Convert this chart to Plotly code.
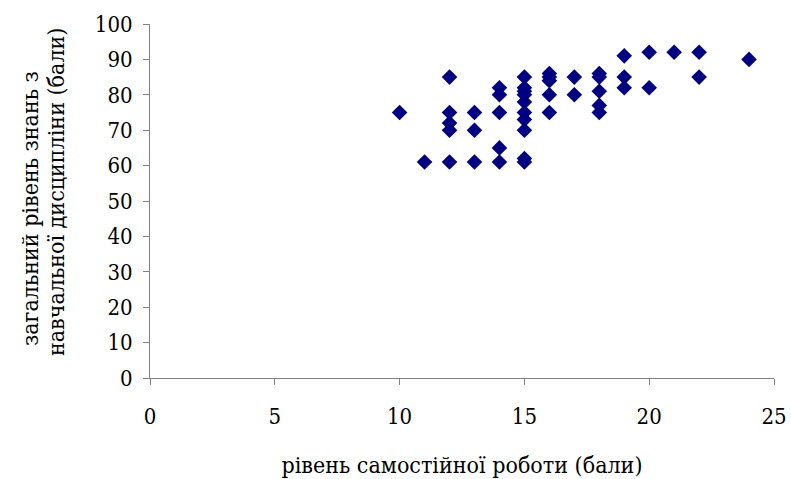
import plotly.graph_objects as go

self_work = [10, 11,
             12, 12, 12, 12, 12,
             13, 13, 13,
             14, 14, 14, 14, 14,
             15, 15, 15, 15, 15, 15, 15, 15, 15, 15,
             16, 16, 16, 16, 16,
             17, 17,
             18, 18, 18, 18, 18,
             19, 19, 19,
             20, 20,
             21,
             22, 22,
             24]
knowledge = [75, 61,
             85, 75, 72, 70, 61,
             75, 70, 61,
             82, 80, 75, 65, 61,
             85, 82, 81, 80, 78, 75, 73, 70, 62, 61,
             86, 85, 84, 80, 75,
             85, 80,
             86, 85, 81, 77, 75,
             91, 85, 82,
             92, 82,
             92,
             92, 85,
             90]

x_ticks = [0, 5, 10, 15, 20, 25]
y_ticks = [0, 10, 20, 30, 40, 50, 60, 70, 80, 90, 100]

x_title = "рівень самостійної роботи (бали)"
y_title_lines = ["загальний рівень знань з", "навчальної дисципліни (бали)"]

FONT = "DejaVu Serif Condensed, DejaVu Serif, serif"

fig = go.Figure(go.Scatter(
    x=self_work, y=knowledge, mode="markers",
    marker=dict(symbol="diamond", size=12, color="#000080",
                line=dict(width=0)),
    showlegend=False))

fig.update_layout(
    width=791, height=479,
    margin=dict(l=150, r=17, t=24, b=101, autoexpand=False),
    paper_bgcolor="white", plot_bgcolor="white",
    font=dict(family=FONT, size=22, color="black"),
)
fig.update_xaxes(
    range=[0, 25], tickvals=x_ticks, ticks="outside", ticklen=6,
    tickcolor="#808080", showline=True, linecolor="#808080", linewidth=1,
    showgrid=False, zeroline=False, ticklabelstandoff=13, automargin=False,
    tickfont=dict(family=FONT, size=22, color="black"),
    title=dict(text=x_title, font=dict(family=FONT, size=23, color="black"), standoff=28),
)
fig.update_yaxes(
    range=[0, 100], tickvals=y_ticks, ticks="outside", ticklen=6,
    tickcolor="#808080", showline=True, linecolor="#808080", linewidth=1,
    showgrid=False, zeroline=False, ticklabelstandoff=6, automargin=False,
    tickfont=dict(family=FONT, size=22, color="black"),
)

# two-line y-axis title, placed line by line to match the reference spacing
for line, xs, ys in zip(y_title_lines, [-120, -94], [-8, 9]):
    fig.add_annotation(
        text=line, xref="paper", yref="paper", x=0, y=0.5,
        xanchor="center", yanchor="middle", textangle=-90,
        xshift=xs, yshift=ys, showarrow=False,
        font=dict(family=FONT, size=23, color="black"))

fig.write_html("out.html", config={"displayModeBar": False},
               post_script="document.body.style.margin='0px';")
